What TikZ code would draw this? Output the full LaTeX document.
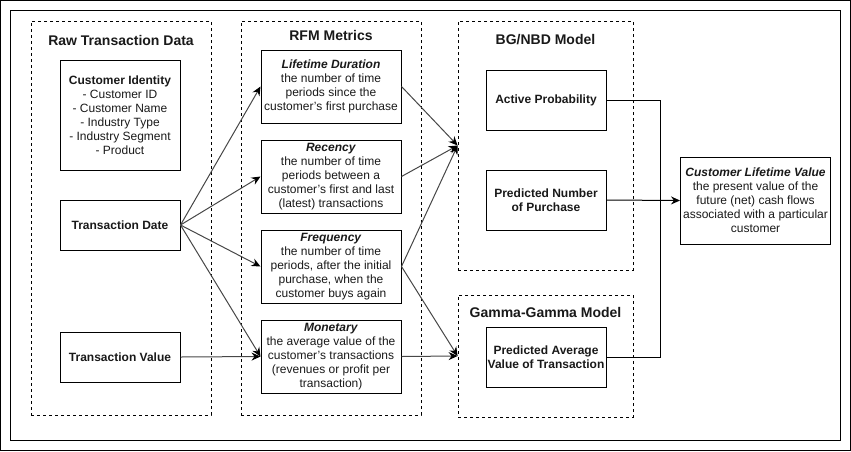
\documentclass[tikz,border=0pt]{standalone}
\usepackage{fontspec}
\setmainfont{Liberation Sans}
\usetikzlibrary{arrows.meta}
\begin{document}
\begin{tikzpicture}[x=1pt,y=-1pt,
  box/.style={draw=black, line width=1pt, align=center, inner sep=1pt,
    font=\fontsize{12}{14}\selectfont, text=black!90},
  dbox/.style={draw=black, line width=0.8pt, dash pattern=on 3pt off 3pt, inner sep=0pt},
  ttl/.style={font=\fontsize{14}{16}\selectfont\bfseries, text=black!90},
  tip/.style={-{Stealth[length=9pt,width=8pt,inset=3pt,black]}},
  conn/.style={draw=black!72, line width=1pt, tip},
  elb/.style={draw=black, line width=1pt}
]
\useasboundingbox (0,0) rectangle (851,451);
\draw[line width=1pt] (0.5,0.5) rectangle (850.5,450.5);
\draw[line width=1pt] (10,10) rectangle (840,440);

% group containers
\node[dbox, minimum width=180, minimum height=394] (raw) at (121,218) {};
\node[dbox, minimum width=180, minimum height=394] (rfm) at (331,218) {};
\node[dbox, minimum width=175, minimum height=249] (bg) at (545.5,145.5) {};
\node[dbox, minimum width=175, minimum height=122] (gg) at (545.5,356) {};

% titles
\node[ttl] (rawt) at (121,40) {Raw Transaction Data};
\node[ttl] (rfmt) at (331,35) {RFM Metrics};
\node[ttl] (bgt) at (545.5,40) {BG/NBD Model};
\node[ttl] (ggt) at (545.5,312) {Gamma-Gamma Model};

% raw data
\node[box, minimum width=120, minimum height=110] (ci) at (120,115)
  {\textbf{Customer Identity}\\- Customer ID\\- Customer Name\\- Industry Type\\- Industry Segment\\- Product};
\node[box, minimum width=120, minimum height=50] (td) at (120,225) {\textbf{Transaction Date}};
\node[box, minimum width=120, minimum height=50] (tv) at (120,357) {\textbf{Transaction Value}};

% RFM
\node[box, minimum width=140, minimum height=73] (ld) at (331,86.5)
  {\textbf{\itshape Lifetime Duration}\\the number of time\\periods since the\\customer's first purchase};
\node[box, minimum width=140, minimum height=73] (rec) at (331,176.5)
  {\textbf{\itshape Recency}\\the number of time\\periods between a\\customer's first and last\\(latest) transactions};
\node[box, minimum width=140, minimum height=73] (freq) at (331,266.5)
  {\textbf{\itshape Frequency}\\the number of time\\periods, after the initial\\purchase, when the\\customer buys again};
\node[box, minimum width=140, minimum height=73] (mon) at (331,356.5)
  {\textbf{\itshape Monetary}\\the average value of the\\customer's transactions\\(revenues or profit per\\transaction)};

% models
\node[box, minimum width=120, minimum height=60] (ap) at (546,100) {\textbf{Active Probability}};
\node[box, minimum width=120, minimum height=60] (pnp) at (546,200) {\textbf{Predicted Number}\\\textbf{of Purchase}};
\node[box, minimum width=120, minimum height=60] (pav) at (546,357) {\textbf{Predicted Average}\\\textbf{Value of Transaction}};

% CLV
\node[box, minimum width=150, minimum height=87] (clv) at (755.5,200.5)
  {\textbf{\itshape Customer Lifetime Value}\\the present value of the\\future (net) cash flows\\associated with a particular\\customer};

% connectors left
\draw[conn] (td.east) -- (ld.west);
\draw[conn] (td.east) -- (rec.west);
\draw[conn] (td.east) -- (freq.west);
\draw[conn] (td.east) -- (mon.west);
\draw[conn] (tv.east) -- (mon.west);

% connectors middle
\draw[conn] (ld.east) -- (bg.west);
\draw[conn] (rec.east) -- (bg.west);
\draw[conn] (freq.east) -- (bg.west);
\draw[conn] (freq.east) -- (gg.west);
\draw[conn] (mon.east) -- (gg.west);

% connectors right
\coordinate (jn) at (660,200);
\draw[elb] (ap.east) -| (jn);
\draw[elb] (pav.east) -| (jn);
\draw[elb, tip] (pnp.east) -- (clv.west);
\end{tikzpicture}
\end{document}
